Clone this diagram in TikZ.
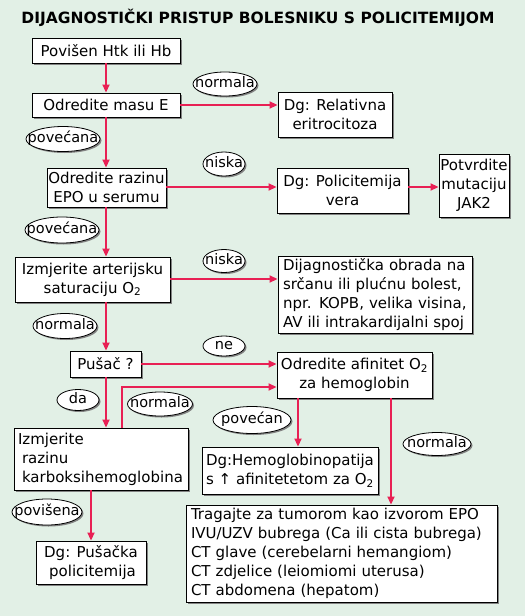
\documentclass[tikz,border=0pt]{standalone}
\usepackage{fontspec}
\setmainfont{DejaVu Sans}
\usetikzlibrary{arrows.meta,shapes.geometric,shadows}
\definecolor{bgc}{RGB}{226,240,230}
\definecolor{arr}{RGB}{232,32,84}
\definecolor{shd}{RGB}{130,130,130}
\newcommand\elab[1]{\raisebox{-0.5ex}[0pt][0pt]{\makebox[0pt]{#1}}}
\begin{document}
\begin{tikzpicture}[x=1pt,y=-1pt,
  box/.style={draw=black, line width=0.9pt, fill=white, inner sep=0pt, align=center,
    font=\fontsize{15}{19}\selectfont,
    drop shadow={shadow xshift=2pt, shadow yshift=-2pt, fill=shd, opacity=1}},
  lbox/.style={box, align=left, inner xsep=5pt},
  lab/.style={ellipse, draw=black, line width=0.8pt, fill=white, inner sep=0pt,
    font=\fontsize{14.5}{16}\selectfont,
    drop shadow={shadow xshift=1.5pt, shadow yshift=-1.5pt, fill=shd, opacity=1}},
  conn/.style={draw=arr, line width=1.8pt, -{Triangle[length=8pt,width=7pt]}}]
\useasboundingbox (0,0) rectangle (525,616);
\fill[bgc] (0,0) rectangle (525,616);

\node[font=\bfseries\fontsize{15.5}{18}\selectfont] (title) at (258,18) {DIJAGNOSTIČKI PRISTUP BOLESNIKU S POLICITEMIJOM};

\node[box, minimum width=148pt, minimum height=25pt] (b1) at (106,50.5) {Povišen Htk ili Hb};
\node[box, minimum width=148pt, minimum height=24pt] (b2) at (106,105) {Odredite masu E};
\node[box, minimum width=114pt, minimum height=45pt] (b3) at (335,114.5) {Dg: Relativna\\eritrocitoza};
\node[box, minimum width=119pt, minimum height=39pt] (b4) at (106.5,187.5) {Odredite razinu\\EPO u serumu};
\node[box, minimum width=131pt, minimum height=45pt] (b5) at (342.5,190.5) {Dg: Policitemija\\vera};
\node[box, minimum width=70pt, minimum height=63pt] (b6) at (474,185.5) {Potvrdite\\mutaciju\\JAK2};
\node[box, minimum width=155pt, minimum height=45pt] (b7) at (92.5,279.5) {Izmjerite arterijsku\\saturaciju O\textsubscript{2}};
\node[lbox, text width=184pt, minimum height=77pt] (b8) at (375,294.5) {Dijagnostička obrada na\\srčanu ili plućnu bolest,\\npr. KOPB, velika visina,\\AV ili intrakardijalni spoj};
\node[box, minimum width=71pt, minimum height=26pt] (b9) at (105.5,364) {Pušač ?};
\node[box, minimum width=155pt, minimum height=46pt] (b10) at (354.5,375) {Odredite afinitet O\textsubscript{2}\\za hemoglobin};
\node[lbox, inner xsep=4pt, text width=166pt, minimum height=62pt] (b11) at (101,459) {Izmjerite\\\hspace*{4pt}razinu\\\hspace*{4pt}karboksihemoglobina};
\node[box, minimum width=176pt, minimum height=47pt] (b12) at (290,470.5) {Dg:Hemoglobinopatija\\s ↑ afinitetetom za O\textsubscript{2}};
\node[lbox, text width=301pt, minimum height=97pt] (b13) at (341.5,553.5) {Tragajte za tumorom kao izvorom EPO\\IVU/UZV bubrega (Ca ili cista bubrega)\\CT glave (cerebelarni hemangiom)\\CT zdjelice (leiomiomi uterusa)\\CT abdomena (hepatom)};
\node[box, minimum width=110pt, minimum height=43pt] (b14) at (91,562.5) {Dg: Pušačka\\\hspace*{3pt}policitemija};

\node[lab, minimum width=64pt, minimum height=24pt] (e1) at (225,84) {\elab{normala}};
\node[lab, minimum width=74pt, minimum height=25pt] (e2) at (63,139) {\elab{povećana}};
\node[lab, minimum width=42pt, minimum height=24pt] (e3) at (224,164) {\elab{niska}};
\node[lab, minimum width=74pt, minimum height=26pt] (e4) at (62,230) {\elab{povećana}};
\node[lab, minimum width=42pt, minimum height=23pt] (e5) at (224,261) {\elab{niska}};
\node[lab, minimum width=64pt, minimum height=25pt] (e6) at (65,326) {\elab{normala}};
\node[lab, minimum width=42pt, minimum height=20pt] (e7) at (224,346) {\elab{ne}};
\node[lab, minimum width=42pt, minimum height=21pt] (e8) at (78,400) {\elab{da}};
\node[lab, minimum width=65pt, minimum height=24pt] (e9) at (160,404) {\elab{normala}};
\node[lab, minimum width=78pt, minimum height=27pt] (e10) at (252,420) {\elab{povećan}};
\node[lab, minimum width=68pt, minimum height=23pt] (e11) at (437,444) {\elab{normala}};
\node[lab, minimum width=70pt, minimum height=26pt] (e12) at (47,512) {\elab{povišena}};

\coordinate (y2) at (0,105);
\coordinate (y4) at (0,187);
\coordinate (y7) at (0,279);
\coordinate (y9) at (0,364);
\coordinate (k1) at (122,387);
\coordinate (x10a) at (298,398);
\coordinate (x10b) at (391,398);
\coordinate (xm) at (106,0);

\draw[conn] (xm |- b1.south) -- (xm |- b2.north);
\draw[conn] (b2.east |- y2) -- (b3.west |- y2);
\draw[conn] (xm |- b2.south) -- (xm |- b4.north);
\draw[conn] (b4.east |- y4) -- (b5.west |- y4);
\draw[conn] (b5.east |- y4) -- (b6.west |- y4);
\draw[conn] (xm |- b4.south) -- (xm |- b7.north);
\draw[conn] (b7.east |- y7) -- (b8.west |- y7);
\draw[conn] (xm |- b7.south) -- (xm |- b9.north);
\draw[conn] (b9.east |- y9) -- (b10.west |- y9);
\draw[conn] (xm |- b9.south) -- (xm |- b11.north);
\draw[conn] (k1 |- b11.north) -- (k1) -- (k1 -| b10.west);
\draw[conn] (x10a) -- (x10a |- b12.north);
\draw[conn] (x10b) -- (x10b |- b13.north);
\draw[conn] (b14.north |- b11.south) -- (b14.north);
\end{tikzpicture}
\end{document}
